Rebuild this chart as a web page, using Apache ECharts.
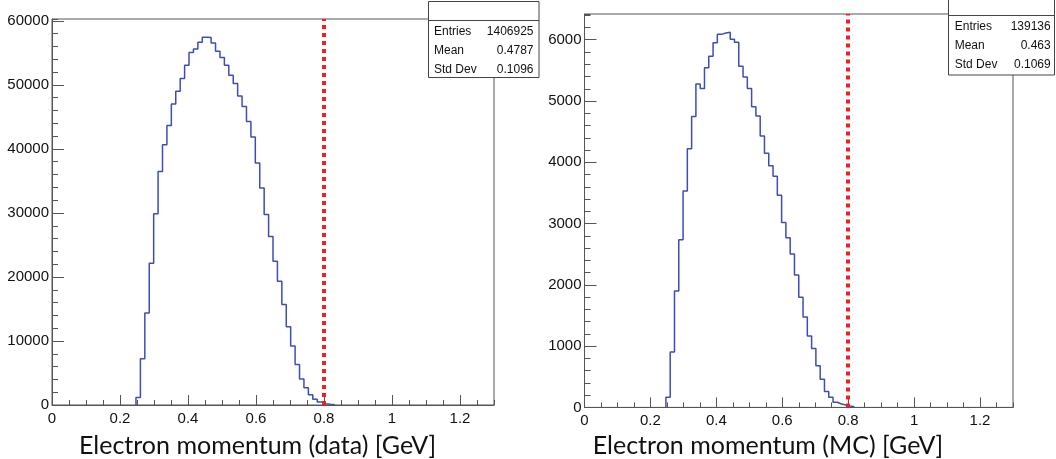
<!DOCTYPE html>
<html>
<head>
<meta charset="utf-8">
<script src="https://cdn.jsdelivr.net/npm/echarts@6/dist/echarts.min.js"></script>
<style>
  html, body { margin: 0; padding: 0; background: #fff; }
  #main { width: 1056px; height: 459px; }
</style>
</head>
<body>
<div id="main"></div>
<script>
// histogram binning (100 bins over 0..1.3 GeV), first filled bin index
var binWidth = 0.013;
var firstBin = 19;
var cutValue = 0.8;

// data histogram, counts from bin 19 upwards
var dataCounts = [1160, 7240, 14380, 22150, 29860, 36470, 40650, 43660, 47040, 49000,
  51000, 53070, 55070, 55600, 56660, 57450, 57400, 56550, 55280, 54280,
  53070, 51530, 50210, 48260, 46620, 44290, 41860, 37790, 33880, 29760,
  26320, 22460, 19340, 15700, 12210, 9200, 6340, 4070, 2700, 1590,
  900, 480, 200, 100, 50];
// MC histogram, counts from bin 19 upwards
var mcCounts = [166, 906, 1900, 2735, 3530, 4221, 4746, 5276, 5204, 5541,
  5729, 5950, 6088, 6110, 6122, 6006, 5961, 5569, 5392, 5204,
  4906, 4757, 4431, 4149, 3945, 3773, 3464, 3017, 2768, 2503,
  2160, 1796, 1475, 1166, 961, 680, 459, 260, 166, 83,
  55, 39, 22, 10];

var xTickLabels = ['0', '0.2', '0.4', '0.6', '0.8', '1', '1.2'];
var dataStats = [['Entries', '1406925'], ['Mean', '0.4787'], ['Std Dev', '0.1096']];
var mcStats = [['Entries', '139136'], ['Mean', '0.463'], ['Std Dev', '0.1069']];
var xTitles = ['Electron momentum (data) [GeV]', 'Electron momentum (MC) [GeV]'];

var frameColor = '#555';
var labelFont = 'Liberation Sans';

// step outline points: low edge of each bin, closing at the last high edge
function histPoints(counts) {
  var pts = [];
  var lo = firstBin * binWidth;
  pts.push([lo, 0]);
  for (var i = 0; i < counts.length; i++) {
    pts.push([+(lo + i * binWidth).toFixed(4), counts[i]]);
  }
  pts.push([+(lo + counts.length * binWidth).toFixed(4), 0]);
  return pts;
}

function xAxes(gi) {
  return [
    { gridIndex: gi, type: 'value', min: 0, max: 1.3, interval: 0.2, position: 'bottom',
      axisLine: { show: true, onZero: false, lineStyle: { color: frameColor, width: 1 } },
      axisTick: { show: true, inside: true, length: 10, lineStyle: { color: frameColor } },
      splitLine: { show: false },
      axisLabel: { color: '#111', fontFamily: labelFont, fontSize: 15, margin: 6, showMaxLabel: false,
        formatter: function (v) { return xTickLabels[Math.round(v / 0.2)] || ''; } } },
    { gridIndex: gi, type: 'value', min: 0, max: 1.3, interval: 0.05, position: 'bottom',
      axisLine: { show: false, onZero: false }, axisLabel: { show: false }, splitLine: { show: false },
      axisTick: { show: true, inside: true, length: 5, lineStyle: { color: frameColor } } }
  ];
}

function yAxes(gi, max, major, minor) {
  return [
    { gridIndex: gi, type: 'value', min: 0, max: max, interval: major, position: 'left',
      axisLine: { show: true, onZero: false, lineStyle: { color: frameColor, width: 1 } },
      axisTick: { show: true, inside: true, length: 12, lineStyle: { color: frameColor } },
      splitLine: { show: false },
      axisLabel: { color: '#111', fontFamily: labelFont, fontSize: 15, margin: 3, showMaxLabel: false,
        formatter: function (v) { return String(v); } } },
    { gridIndex: gi, type: 'value', min: 0, max: max, interval: minor, position: 'left',
      axisLine: { show: false, onZero: false }, axisLabel: { show: false }, splitLine: { show: false },
      axisTick: { show: true, inside: true, length: 6, lineStyle: { color: frameColor } } }
  ];
}

function histSeries(gi, counts) {
  return {
    type: 'line', xAxisIndex: gi * 2, yAxisIndex: gi * 2, step: 'end',
    data: histPoints(counts), showSymbol: false, animation: false,
    lineStyle: { color: '#3d4db7', width: 1.5 },
    markLine: {
      silent: true, symbol: 'none', animation: false,
      label: { show: false },
      lineStyle: { color: '#ff1a1a', width: 4, type: [4, 4], cap: 'butt' },
      data: [{ xAxis: cutValue }]
    }
  };
}

function statsBox(x, y, w, h, sep, rowY, tx0, tx1, rows) {
  var els = [
    { type: 'rect', shape: { x: x, y: y, width: w, height: h },
      style: { fill: '#fff', stroke: '#444', lineWidth: 1 }, z: 10 },
    { type: 'line', shape: { x1: x, y1: sep, x2: x + w, y2: sep },
      style: { stroke: '#444', lineWidth: 1 }, z: 11 }
  ];
  for (var i = 0; i < rows.length; i++) {
    els.push({ type: 'text', x: tx0, y: rowY[i], z: 12,
      style: { text: rows[i][0], fill: '#111', font: '12px "Liberation Sans"', verticalAlign: 'middle', align: 'left' } });
    els.push({ type: 'text', x: tx1, y: rowY[i], z: 12,
      style: { text: rows[i][1], fill: '#111', font: '12px "Liberation Sans"', verticalAlign: 'middle', align: 'right' } });
  }
  return els;
}

var chart = echarts.init(document.getElementById('main'), null, { renderer: 'canvas' });

var graphics = [].concat(
  statsBox(428.5, 1.5, 110.5, 76, 20.5, [32, 50.7, 69.3], 434, 533.5, dataStats),
  statsBox(948.5, -1, 106, 76, 15.5, [26.5, 46, 65], 954.7, 1050.7, mcStats),
  [
    { type: 'text', x: 257.5, y: 446, z: 12,
      style: { text: xTitles[0], fill: '#111', font: '25px Lato', align: 'center', verticalAlign: 'middle' } },
    { type: 'text', x: 768, y: 446, z: 12,
      style: { text: xTitles[1], fill: '#111', font: '25px Lato', align: 'center', verticalAlign: 'middle' } }
  ]
);

var option = {
  backgroundColor: '#fff',
  animation: false,
  grid: [
    { left: 52, top: 19, width: 442, height: 386, show: true, borderColor: frameColor, borderWidth: 1, backgroundColor: 'transparent' },
    { left: 584.5, top: 14, width: 428.5, height: 393.4, show: true, borderColor: frameColor, borderWidth: 1, backgroundColor: 'transparent' }
  ],
  xAxis: xAxes(0).concat(xAxes(1)),
  yAxis: yAxes(0, 60300, 10000, 2000).concat(yAxes(1, 6420, 1000, 200)),
  series: [histSeries(0, dataCounts), histSeries(1, mcCounts)],
  graphic: graphics
};

chart.setOption(option);
</script>
</body>
</html>
